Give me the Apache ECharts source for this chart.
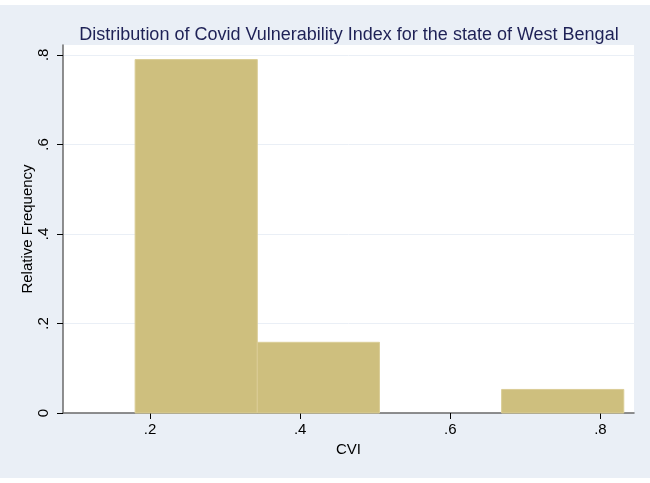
<!DOCTYPE html>
<html>
<head>
<meta charset="utf-8">
<script src="https://cdn.jsdelivr.net/npm/echarts@6/dist/echarts.min.js"></script>
<style>
html,body{margin:0;padding:0;background:#fff;}
#chart{width:650px;height:483px;}
</style>
</head>
<body>
<div id="chart"></div>
<script>
// Histogram bins (CVI) and relative frequencies
const binEdges = [0.18, 0.3428, 0.5056, 0.6684, 0.8312];
const relFreq = [0.7895, 0.1579, 0, 0.0526];
const xTicks = [0.2, 0.4, 0.6, 0.8];
const yTicks = [0, 0.2, 0.4, 0.6, 0.8];
const titleText = 'Distribution of Covid Vulnerability Index for the state of West Bengal';
const xName = 'CVI';
const yName = 'Relative Frequency';

const fmt = v => {
  if (Math.abs(v) < 1e-9) return '0';
  const s = (+v.toFixed(2)).toString();
  return s.replace(/^0\./, '.');
};

const histData = relFreq.map((f, i) => [binEdges[i], binEdges[i + 1], f]);
const FONT = 'Liberation Sans, Arial, sans-serif';

const chart = echarts.init(document.getElementById('chart'), null, {renderer: 'canvas'});
chart.setOption({
  backgroundColor: '#ffffff',
  animation: false,
  graphic: [{
    type: 'rect', z: -100, silent: true,
    shape: {x: 0, y: 5, width: 650, height: 473},
    style: {fill: '#eaeff6'}
  }],
  title: {
    text: titleText,
    left: 344, top: 21, textAlign: 'center',
    textStyle: {color: '#1e2156', fontSize: 18, fontWeight: 'normal', fontFamily: FONT}
  },
  grid: {left: 63, right: 16, top: 45, bottom: 70, show: true, backgroundColor: '#ffffff', borderWidth: 0},
  xAxis: {
    type: 'value', min: 0.0839, max: 0.8448,
    name: xName, nameLocation: 'middle', nameGap: 29, nameMoveOverlap: false,
    nameTextStyle: {color: '#000', fontSize: 15, fontFamily: FONT},
    axisLine: {show: true, lineStyle: {color: '#6a6a6a', width: 1.5}},
    axisTick: {show: true, customValues: xTicks, length: 6, lineStyle: {color: '#000'}},
    axisLabel: {customValues: xTicks, formatter: fmt, color: '#000', fontSize: 15, margin: 9, fontFamily: FONT},
    splitLine: {show: false}
  },
  yAxis: {
    type: 'value', min: 0, max: 0.822,
    name: yName, nameLocation: 'middle', nameGap: 28, nameMoveOverlap: false,
    nameTextStyle: {color: '#000', fontSize: 15, fontFamily: FONT},
    axisLine: {show: true, lineStyle: {color: '#6a6a6a', width: 1.5}},
    axisTick: {show: true, customValues: yTicks, length: 6, lineStyle: {color: '#000'}},
    axisLabel: {customValues: yTicks, formatter: fmt, rotate: 90, color: '#000', fontSize: 15, margin: 12, fontFamily: FONT},
    splitLine: {show: true, lineStyle: {color: '#eaeff6', width: 1}}
  },
  series: [{
    type: 'custom',
    data: histData,
    encode: {x: [0, 1], y: 2},
    renderItem: function (params, api) {
      const x0 = api.value(0), x1 = api.value(1), f = api.value(2);
      if (!f) return null;
      const p0 = api.coord([x0, f]);
      const p1 = api.coord([x1, 0]);
      return {
        type: 'rect',
        shape: {x: p0[0], y: p0[1], width: p1[0] - p0[0], height: p1[1] - p0[1]},
        style: {fill: '#cebf7e', stroke: '#dacd96', lineWidth: 1}
      };
    }
  }]
});
</script>
</body>
</html>
